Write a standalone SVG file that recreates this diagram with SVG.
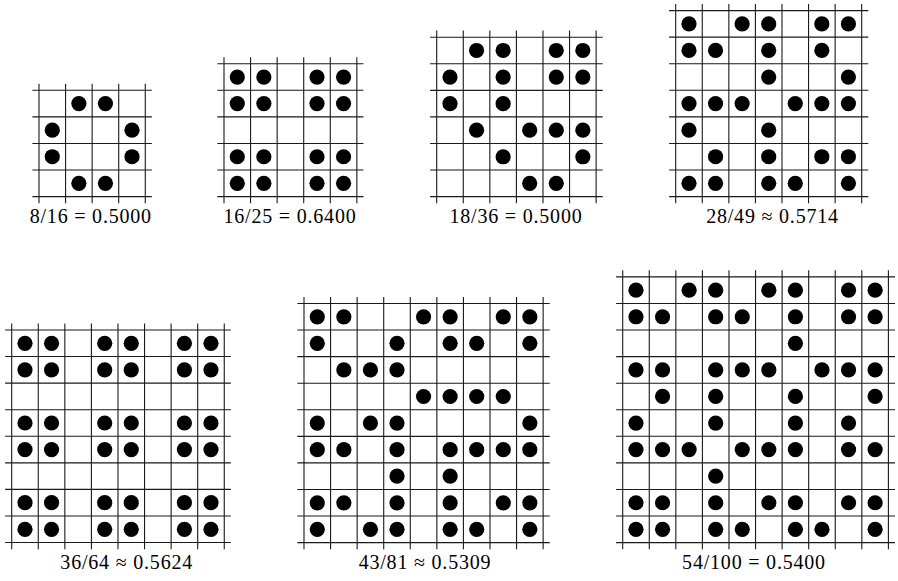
<svg xmlns="http://www.w3.org/2000/svg" xmlns:xlink="http://www.w3.org/1999/xlink" width="898" height="581" viewBox="0 0 898 581">
<style>
.grid{fill:none;stroke:#1a1a1a;stroke-width:1.1}
.lbl{font-family:"Liberation Serif","DejaVu Serif",serif;font-size:20px;fill:#000;text-anchor:middle;word-spacing:0px;letter-spacing:0.8px}
</style>
<defs><circle id="d" cx="0" cy="0" r="7.6" fill="#000"/></defs>
<rect width="898" height="581" fill="#fff"/>

<g id="g1" transform="translate(39,90.3)">
<path class="grid" d="M0 -6.6V112.88M26.57 -6.6V112.88M53.14 -6.6V112.88M79.71 -6.6V112.88M106.28 -6.6V112.88M-6.6 0H112.88M-6.6 26.57H112.88M-6.6 53.14H112.88M-6.6 79.71H112.88M-6.6 106.28H112.88"/>
<g transform="translate(0,13.29)"><use href="#d" x="39.86"/><use href="#d" x="66.43"/></g>
<g transform="translate(0,39.86)"><use href="#d" x="13.29"/><use href="#d" x="93"/></g>
<g transform="translate(0,66.43)"><use href="#d" x="13.29"/><use href="#d" x="93"/></g>
<g transform="translate(0,93)"><use href="#d" x="39.86"/><use href="#d" x="66.43"/></g>
</g>
<text class="lbl" x="90.8" y="223">8/16 = 0.5000</text>

<g id="g2" transform="translate(224,63.75)">
<path class="grid" d="M0 -6.6V139.45M26.57 -6.6V139.45M53.14 -6.6V139.45M79.71 -6.6V139.45M106.28 -6.6V139.45M132.85 -6.6V139.45M-6.6 0H139.45M-6.6 26.57H139.45M-6.6 53.14H139.45M-6.6 79.71H139.45M-6.6 106.28H139.45M-6.6 132.85H139.45"/>
<g transform="translate(0,13.29)"><use href="#d" x="13.29"/><use href="#d" x="39.86"/><use href="#d" x="93"/><use href="#d" x="119.57"/></g>
<g transform="translate(0,39.86)"><use href="#d" x="13.29"/><use href="#d" x="39.86"/><use href="#d" x="93"/><use href="#d" x="119.57"/></g>
<g transform="translate(0,93)"><use href="#d" x="13.29"/><use href="#d" x="39.86"/><use href="#d" x="93"/><use href="#d" x="119.57"/></g>
<g transform="translate(0,119.57)"><use href="#d" x="13.29"/><use href="#d" x="39.86"/><use href="#d" x="93"/><use href="#d" x="119.57"/></g>
</g>
<text class="lbl" x="290" y="223">16/25 = 0.6400</text>

<g id="g3" transform="translate(436.7,37.2)">
<path class="grid" d="M0 -6.6V166.02M26.57 -6.6V166.02M53.14 -6.6V166.02M79.71 -6.6V166.02M106.28 -6.6V166.02M132.85 -6.6V166.02M159.42 -6.6V166.02M-6.6 0H166.02M-6.6 26.57H166.02M-6.6 53.14H166.02M-6.6 79.71H166.02M-6.6 106.28H166.02M-6.6 132.85H166.02M-6.6 159.42H166.02"/>
<g transform="translate(0,13.29)"><use href="#d" x="39.86"/><use href="#d" x="66.43"/><use href="#d" x="119.57"/><use href="#d" x="146.14"/></g>
<g transform="translate(0,39.86)"><use href="#d" x="13.29"/><use href="#d" x="66.43"/><use href="#d" x="119.57"/><use href="#d" x="146.14"/></g>
<g transform="translate(0,66.43)"><use href="#d" x="13.29"/><use href="#d" x="66.43"/></g>
<g transform="translate(0,93)"><use href="#d" x="39.86"/><use href="#d" x="93"/><use href="#d" x="119.57"/><use href="#d" x="146.14"/></g>
<g transform="translate(0,119.57)"><use href="#d" x="66.43"/><use href="#d" x="146.14"/></g>
<g transform="translate(0,146.14)"><use href="#d" x="93"/><use href="#d" x="119.57"/></g>
</g>
<text class="lbl" x="516" y="223">18/36 = 0.5000</text>

<g id="g4" transform="translate(675.7,10.6)">
<path class="grid" d="M0 -6.6V192.59M26.57 -6.6V192.59M53.14 -6.6V192.59M79.71 -6.6V192.59M106.28 -6.6V192.59M132.85 -6.6V192.59M159.42 -6.6V192.59M185.99 -6.6V192.59M-6.6 0H192.59M-6.6 26.57H192.59M-6.6 53.14H192.59M-6.6 79.71H192.59M-6.6 106.28H192.59M-6.6 132.85H192.59M-6.6 159.42H192.59M-6.6 185.99H192.59"/>
<g transform="translate(0,13.29)"><use href="#d" x="13.29"/><use href="#d" x="66.43"/><use href="#d" x="93"/><use href="#d" x="146.14"/><use href="#d" x="172.71"/></g>
<g transform="translate(0,39.86)"><use href="#d" x="13.29"/><use href="#d" x="39.86"/><use href="#d" x="93"/><use href="#d" x="146.14"/></g>
<g transform="translate(0,66.43)"><use href="#d" x="93"/><use href="#d" x="172.71"/></g>
<g transform="translate(0,93)"><use href="#d" x="13.29"/><use href="#d" x="39.86"/><use href="#d" x="66.43"/><use href="#d" x="119.57"/><use href="#d" x="146.14"/><use href="#d" x="172.71"/></g>
<g transform="translate(0,119.57)"><use href="#d" x="13.29"/><use href="#d" x="93"/></g>
<g transform="translate(0,146.14)"><use href="#d" x="39.86"/><use href="#d" x="93"/><use href="#d" x="146.14"/><use href="#d" x="172.71"/></g>
<g transform="translate(0,172.71)"><use href="#d" x="13.29"/><use href="#d" x="39.86"/><use href="#d" x="93"/><use href="#d" x="119.57"/><use href="#d" x="172.71"/></g>
</g>
<text class="lbl" x="772.5" y="223">28/49 ≈ 0.5714</text>

<g id="g5" transform="translate(11.7,330)">
<path class="grid" d="M0 -6.6V219.16M26.57 -6.6V219.16M53.14 -6.6V219.16M79.71 -6.6V219.16M106.28 -6.6V219.16M132.85 -6.6V219.16M159.42 -6.6V219.16M185.99 -6.6V219.16M212.56 -6.6V219.16M-6.6 0H219.16M-6.6 26.57H219.16M-6.6 53.14H219.16M-6.6 79.71H219.16M-6.6 106.28H219.16M-6.6 132.85H219.16M-6.6 159.42H219.16M-6.6 185.99H219.16M-6.6 212.56H219.16"/>
<g transform="translate(0,13.29)"><use href="#d" x="13.29"/><use href="#d" x="39.86"/><use href="#d" x="93"/><use href="#d" x="119.57"/><use href="#d" x="172.71"/><use href="#d" x="199.28"/></g>
<g transform="translate(0,39.86)"><use href="#d" x="13.29"/><use href="#d" x="39.86"/><use href="#d" x="93"/><use href="#d" x="119.57"/><use href="#d" x="172.71"/><use href="#d" x="199.28"/></g>
<g transform="translate(0,93)"><use href="#d" x="13.29"/><use href="#d" x="39.86"/><use href="#d" x="93"/><use href="#d" x="119.57"/><use href="#d" x="172.71"/><use href="#d" x="199.28"/></g>
<g transform="translate(0,119.57)"><use href="#d" x="13.29"/><use href="#d" x="39.86"/><use href="#d" x="93"/><use href="#d" x="119.57"/><use href="#d" x="172.71"/><use href="#d" x="199.28"/></g>
<g transform="translate(0,172.71)"><use href="#d" x="13.29"/><use href="#d" x="39.86"/><use href="#d" x="93"/><use href="#d" x="119.57"/><use href="#d" x="172.71"/><use href="#d" x="199.28"/></g>
<g transform="translate(0,199.28)"><use href="#d" x="13.29"/><use href="#d" x="39.86"/><use href="#d" x="93"/><use href="#d" x="119.57"/><use href="#d" x="172.71"/><use href="#d" x="199.28"/></g>
</g>
<text class="lbl" x="126.7" y="569">36/64 ≈ 0.5624</text>

<g id="g6" transform="translate(304,303.5)">
<path class="grid" d="M0 -6.6V245.73M26.57 -6.6V245.73M53.14 -6.6V245.73M79.71 -6.6V245.73M106.28 -6.6V245.73M132.85 -6.6V245.73M159.42 -6.6V245.73M185.99 -6.6V245.73M212.56 -6.6V245.73M239.13 -6.6V245.73M-6.6 0H245.73M-6.6 26.57H245.73M-6.6 53.14H245.73M-6.6 79.71H245.73M-6.6 106.28H245.73M-6.6 132.85H245.73M-6.6 159.42H245.73M-6.6 185.99H245.73M-6.6 212.56H245.73M-6.6 239.13H245.73"/>
<g transform="translate(0,13.29)"><use href="#d" x="13.29"/><use href="#d" x="39.86"/><use href="#d" x="119.57"/><use href="#d" x="146.14"/><use href="#d" x="199.28"/><use href="#d" x="225.85"/></g>
<g transform="translate(0,39.86)"><use href="#d" x="13.29"/><use href="#d" x="93"/><use href="#d" x="146.14"/><use href="#d" x="172.71"/><use href="#d" x="225.85"/></g>
<g transform="translate(0,66.43)"><use href="#d" x="39.86"/><use href="#d" x="66.43"/><use href="#d" x="93"/></g>
<g transform="translate(0,93)"><use href="#d" x="119.57"/><use href="#d" x="146.14"/><use href="#d" x="172.71"/><use href="#d" x="199.28"/></g>
<g transform="translate(0,119.57)"><use href="#d" x="13.29"/><use href="#d" x="66.43"/><use href="#d" x="93"/><use href="#d" x="225.85"/></g>
<g transform="translate(0,146.14)"><use href="#d" x="13.29"/><use href="#d" x="39.86"/><use href="#d" x="93"/><use href="#d" x="146.14"/><use href="#d" x="172.71"/><use href="#d" x="199.28"/><use href="#d" x="225.85"/></g>
<g transform="translate(0,172.71)"><use href="#d" x="93"/><use href="#d" x="146.14"/></g>
<g transform="translate(0,199.28)"><use href="#d" x="13.29"/><use href="#d" x="39.86"/><use href="#d" x="93"/><use href="#d" x="146.14"/><use href="#d" x="199.28"/><use href="#d" x="225.85"/></g>
<g transform="translate(0,225.85)"><use href="#d" x="13.29"/><use href="#d" x="66.43"/><use href="#d" x="93"/><use href="#d" x="146.14"/><use href="#d" x="172.71"/><use href="#d" x="225.85"/></g>
</g>
<text class="lbl" x="425" y="569">43/81 ≈ 0.5309</text>

<g id="g7" transform="translate(622.7,276.9)">
<path class="grid" d="M0 -6.6V272.3M26.57 -6.6V272.3M53.14 -6.6V272.3M79.71 -6.6V272.3M106.28 -6.6V272.3M132.85 -6.6V272.3M159.42 -6.6V272.3M185.99 -6.6V272.3M212.56 -6.6V272.3M239.13 -6.6V272.3M265.7 -6.6V272.3M-6.6 0H272.3M-6.6 26.57H272.3M-6.6 53.14H272.3M-6.6 79.71H272.3M-6.6 106.28H272.3M-6.6 132.85H272.3M-6.6 159.42H272.3M-6.6 185.99H272.3M-6.6 212.56H272.3M-6.6 239.13H272.3M-6.6 265.7H272.3"/>
<g transform="translate(0,13.29)"><use href="#d" x="13.29"/><use href="#d" x="66.43"/><use href="#d" x="93"/><use href="#d" x="146.14"/><use href="#d" x="172.71"/><use href="#d" x="225.85"/><use href="#d" x="252.42"/></g>
<g transform="translate(0,39.86)"><use href="#d" x="13.29"/><use href="#d" x="39.86"/><use href="#d" x="93"/><use href="#d" x="119.57"/><use href="#d" x="172.71"/><use href="#d" x="225.85"/><use href="#d" x="252.42"/></g>
<g transform="translate(0,66.43)"><use href="#d" x="172.71"/></g>
<g transform="translate(0,93)"><use href="#d" x="13.29"/><use href="#d" x="39.86"/><use href="#d" x="93"/><use href="#d" x="119.57"/><use href="#d" x="146.14"/><use href="#d" x="199.28"/><use href="#d" x="225.85"/><use href="#d" x="252.42"/></g>
<g transform="translate(0,119.57)"><use href="#d" x="39.86"/><use href="#d" x="93"/><use href="#d" x="172.71"/><use href="#d" x="252.42"/></g>
<g transform="translate(0,146.14)"><use href="#d" x="13.29"/><use href="#d" x="93"/><use href="#d" x="172.71"/><use href="#d" x="225.85"/></g>
<g transform="translate(0,172.71)"><use href="#d" x="13.29"/><use href="#d" x="39.86"/><use href="#d" x="66.43"/><use href="#d" x="119.57"/><use href="#d" x="146.14"/><use href="#d" x="172.71"/><use href="#d" x="225.85"/><use href="#d" x="252.42"/></g>
<g transform="translate(0,199.28)"><use href="#d" x="93"/></g>
<g transform="translate(0,225.85)"><use href="#d" x="13.29"/><use href="#d" x="39.86"/><use href="#d" x="93"/><use href="#d" x="146.14"/><use href="#d" x="172.71"/><use href="#d" x="225.85"/><use href="#d" x="252.42"/></g>
<g transform="translate(0,252.42)"><use href="#d" x="13.29"/><use href="#d" x="39.86"/><use href="#d" x="93"/><use href="#d" x="119.57"/><use href="#d" x="172.71"/><use href="#d" x="199.28"/><use href="#d" x="252.42"/></g>
</g>
<text class="lbl" x="754" y="569">54/100 = 0.5400</text>
</svg>
